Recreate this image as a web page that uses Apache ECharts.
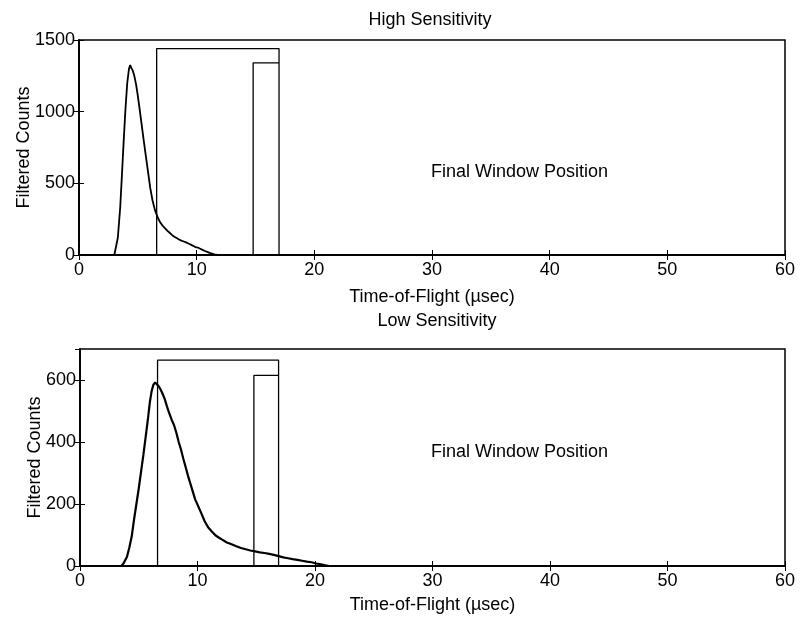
<!DOCTYPE html>
<html>
<head>
<meta charset="utf-8">
<script src="https://cdn.jsdelivr.net/npm/echarts@6/dist/echarts.min.js"></script>
<style>
  html, body { margin: 0; padding: 0; background: #fff; }
  #main { width: 807px; height: 622px; }
</style>
</head>
<body>
<div id="main"></div>
<script>
// time of flight (usec) and filtered counts
var hiTof = [3.0, 3.1, 3.3, 3.5, 3.65, 3.8, 3.95, 4.1, 4.25, 4.35, 4.45, 4.55, 4.7, 4.85, 5.0, 5.15, 5.3, 5.5, 5.7, 5.9,
  6.05, 6.25, 6.45, 6.7, 6.9, 7.1, 7.3, 7.5, 7.7, 7.9, 8.1, 8.3, 8.5, 8.7, 8.9, 9.1, 9.3, 9.5, 9.7, 9.9,
  10.1, 10.3, 10.5, 10.7, 10.9, 11.1, 11.3, 11.5, 11.7, 12.0];
var hiCounts = [0, 10, 120, 330, 560, 800, 1020, 1200, 1300, 1325, 1305, 1290, 1250, 1190, 1110, 1020, 925, 800, 680, 560,
  470, 380, 315, 260, 228, 205, 188, 170, 155, 140, 128, 118, 108, 100, 94, 88, 80, 72, 64, 55,
  52, 44, 36, 28, 22, 15, 10, 5, 2, 0];

var loTof = [3.5, 3.7, 4.0, 4.2, 4.4, 4.6, 4.8, 5.0, 5.2, 5.4, 5.6, 5.8, 5.95, 6.1, 6.25, 6.4, 6.55, 6.7, 6.85, 7.0,
  7.2, 7.4, 7.6, 7.8, 8.0, 8.2, 8.4, 8.6, 8.8, 9.0, 9.2, 9.4, 9.6, 9.8, 10.0, 10.3, 10.6, 10.9, 11.2, 11.5,
  11.8, 12.1, 12.5, 12.9, 13.3, 13.7, 14.1, 14.5, 14.9, 15.3, 15.7, 16.1, 16.5, 16.9, 17.3, 17.7, 18.1, 18.5, 18.9, 19.3,
  19.7, 20.1, 20.5, 20.9, 21.2];
var loCounts = [0, 8, 30, 60, 95, 150, 200, 250, 305, 360, 420, 480, 530, 565, 585, 592, 588, 580, 570, 558,
  540, 515, 492, 472, 455, 430, 400, 375, 345, 318, 290, 265, 240, 215, 198, 172, 145, 125, 112, 100,
  92, 85, 76, 70, 64, 58, 54, 50, 47, 44, 42, 39, 36, 32, 28, 25, 22, 20, 17, 14,
  12, 8, 5, 2, 0];

// window outlines: outer window and final window position
var hiOuterX = [6.6, 6.6, 17, 17];
var hiOuterY = [0, 1440, 1440, 0];
var hiFinalX = [14.8, 14.8, 17];
var hiFinalY = [0, 1340, 1340];
var loOuterX = [6.6, 6.6, 16.9, 16.9];
var loOuterY = [0, 664, 664, 0];
var loFinalX = [14.8, 14.8, 16.9];
var loFinalY = [0, 615, 615];

var xTicks = [0, 60, 10];
var hiY = [0, 1500, 500];
var loY = [0, 700, 200];

function pairs(xs, ys) {
  return xs.map(function (x, i) { return [x, ys[i]]; });
}

var font = 'Liberation Sans, Arial, sans-serif';
var plain = function (v) { return String(v); };

function xAxisFor(gi, gap) {
  return [{
    gridIndex: gi, type: 'value', min: xTicks[0], max: xTicks[1], interval: xTicks[2],
    name: 'Time-of-Flight (\u00b5sec)', nameLocation: 'middle', nameGap: gap, nameMoveOverlap: false,
    nameTextStyle: { color: '#000', fontSize: 18, fontFamily: font },
    axisLine: { lineStyle: { color: '#000', width: 1.5 } },
    axisTick: { inside: true, length: 5, lineStyle: { color: '#000' } },
    axisLabel: { color: '#000', fontSize: 18, fontFamily: font, margin: 6, formatter: plain },
    splitLine: { show: false }
  }, {
    gridIndex: gi, type: 'value', position: 'top', min: xTicks[0], max: xTicks[1], interval: xTicks[2],
    axisLine: { show: true, lineStyle: { color: '#000', width: 1.5 } },
    axisTick: { show: true, inside: true, length: 5, lineStyle: { color: '#000' } },
    axisLabel: { show: false }, splitLine: { show: false }
  }];
}

function yAxisFor(gi, r, gap) {
  return [{
    gridIndex: gi, type: 'value', min: r[0], max: r[1], interval: r[2],
    name: 'Filtered Counts', nameLocation: 'middle', nameGap: gap, nameRotate: 90, nameMoveOverlap: false,
    nameTextStyle: { color: '#000', fontSize: 18, fontFamily: font },
    axisLine: { show: true, lineStyle: { color: '#000', width: 1.5 } },
    axisTick: { show: true, inside: true, length: 5, lineStyle: { color: '#000' } },
    axisLabel: { color: '#000', fontSize: 18, fontFamily: font, margin: 4, formatter: plain,
      showMaxLabel: r[1] % r[2] === 0 },
    splitLine: { show: false }
  }, {
    gridIndex: gi, type: 'value', position: 'right', min: r[0], max: r[1], interval: r[2],
    axisLine: { show: true, lineStyle: { color: '#000', width: 1.5 } },
    axisTick: { show: true, inside: true, length: 5, lineStyle: { color: '#000' } },
    axisLabel: { show: false }, splitLine: { show: false }
  }];
}

function lineSeries(xi, yi, data, w) {
  return {
    type: 'line', xAxisIndex: xi, yAxisIndex: yi, data: data,
    showSymbol: false, symbol: 'none', animation: false, silent: true,
    lineStyle: { color: '#000', width: w }
  };
}

var myChart = echarts.init(document.getElementById('main'), null, { renderer: 'canvas' });

var option = {
  backgroundColor: '#fff',
  animation: false,
  title: [
    { text: 'High Sensitivity', left: 425, top: 6, textAlign: 'center',
      textStyle: { color: '#000', fontSize: 18, fontWeight: 'normal', fontFamily: font } },
    { text: 'Low Sensitivity', left: 432, top: 307, textAlign: 'center',
      textStyle: { color: '#000', fontSize: 18, fontWeight: 'normal', fontFamily: font } }
  ],
  grid: [
    { left: 79, right: 22, top: 40, height: 215, show: true, borderColor: '#000', borderWidth: 1.5 },
    { left: 80, right: 22, top: 349, height: 217, show: true, borderColor: '#000', borderWidth: 1.5 }
  ],
  xAxis: xAxisFor(0, 33).concat(xAxisFor(1, 30)),
  yAxis: yAxisFor(0, hiY, 46).concat(yAxisFor(1, loY, 36)),
  series: [
    lineSeries(0, 0, pairs(hiTof, hiCounts), 1.8),
    lineSeries(0, 0, pairs(hiOuterX, hiOuterY), 1.3),
    lineSeries(0, 0, pairs(hiFinalX, hiFinalY), 1.3),
    lineSeries(1, 1, [], 1),
    lineSeries(2, 2, pairs(loTof, loCounts), 2.2),
    lineSeries(2, 2, pairs(loOuterX, loOuterY), 1.3),
    lineSeries(2, 2, pairs(loFinalX, loFinalY), 1.3),
    lineSeries(3, 3, [], 1)
  ],
  graphic: [
    { type: 'text', left: 431, top: 163,
      style: { text: 'Final Window Position', fill: '#000', fontSize: 18, fontFamily: font } },
    { type: 'text', left: 431, top: 443,
      style: { text: 'Final Window Position', fill: '#000', fontSize: 18, fontFamily: font } }
  ]
};

myChart.setOption(option);
</script>
</body>
</html>
